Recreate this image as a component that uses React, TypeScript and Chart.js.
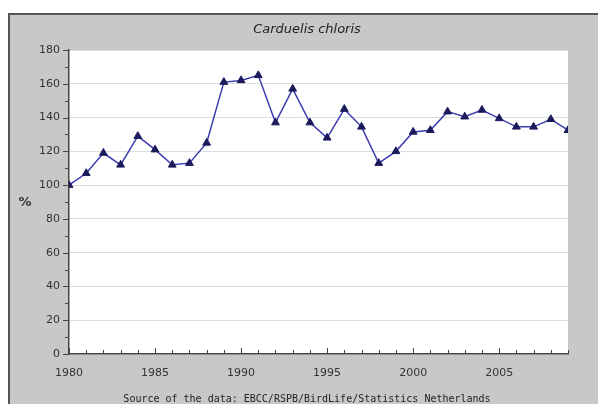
import React, { useEffect, useRef } from "react";
import { Chart, registerables } from "chart.js";

Chart.register(...registerables);

const years: number[] = [
  1980, 1981, 1982, 1983, 1984, 1985, 1986, 1987, 1988, 1989,
  1990, 1991, 1992, 1993, 1994, 1995, 1996, 1997, 1998, 1999,
  2000, 2001, 2002, 2003, 2004, 2005, 2006, 2007, 2008, 2009,
];
const index: number[] = [
  100, 107, 119, 112, 129, 121, 112, 113, 125, 161,
  162, 165, 137, 157, 137, 128, 145, 134.5, 113, 120,
  131.5, 132.5, 143.5, 140.5, 144.5, 139.5, 134.5, 134.5, 139, 132.5,
];
const titleText = "Carduelis chloris";
const yLabel = "%";
const sourceText = "Source of the data: EBCC/RSPB/BirdLife/Statistics Netherlands";
const xMin = 1980;
const xMax = 2009;
const yMin = 0;
const yMax = 180;

const PANEL = "#c8c8c8";

const framePlugin = {
  id: "frame",
  beforeDraw(chart: any) {
    const { ctx, width, height, chartArea } = chart;
    ctx.save();
    ctx.fillStyle = "#ffffff";
    ctx.fillRect(0, 0, width, height);
    ctx.fillStyle = PANEL;
    ctx.fillRect(8, 13, width - 8, height - 13);
    ctx.fillStyle = "#555555";
    ctx.fillRect(8, 13, width - 8, 2);
    ctx.fillRect(8, 13, 2, height - 13);
    ctx.fillStyle = "#ffffff";
    ctx.fillRect(chartArea.left, chartArea.top, chartArea.right - chartArea.left, chartArea.bottom - chartArea.top);
    ctx.restore();
  },
  afterDraw(chart: any) {
    const { ctx, chartArea, scales } = chart;
    const xs = scales.x;
    const ys = scales.y;
    ctx.save();
    ctx.strokeStyle = "#444444";
    ctx.lineWidth = 1;
    for (let yr = xMin; yr <= xMax; yr++) {
      const px = Math.round(xs.getPixelForValue(yr)) + 0.5;
      const len = yr % 5 === 0 ? 6 : 4;
      ctx.beginPath();
      ctx.moveTo(px, chartArea.bottom);
      ctx.lineTo(px, chartArea.bottom - len);
      ctx.stroke();
    }
    for (let v = yMin; v <= yMax; v += 10) {
      const py = Math.round(ys.getPixelForValue(v)) + 0.5;
      const len = v % 20 === 0 ? 6 : 4;
      ctx.beginPath();
      ctx.moveTo(chartArea.left, py);
      ctx.lineTo(chartArea.left - len, py);
      ctx.stroke();
    }
    ctx.fillStyle = "#222222";
    ctx.textAlign = "center";
    ctx.textBaseline = "middle";
    ctx.font = "italic 13px 'DejaVu Sans'";
    ctx.fillText(titleText, 307, 30);
    ctx.font = "bold 13px 'DejaVu Sans'";
    ctx.fillStyle = "#333333";
    ctx.fillText(yLabel, 25, 203);
    ctx.font = "10px 'DejaVu Sans Mono'";
    ctx.fillStyle = "#222222";
    ctx.fillText(sourceText, 307, 399);
    ctx.restore();
  },
};

export default function App() {
  const ref = useRef<HTMLCanvasElement | null>(null);

  useEffect(() => {
    document.body.style.margin = "0";
    const canvas = ref.current;
    if (!canvas) return;
    const chart = new Chart(canvas, {
      type: "line",
      data: {
        datasets: [
          {
            label: titleText,
            data: years.map((y, i) => ({ x: y, y: index[i] })),
            borderColor: "#3c3cb0",
            borderWidth: 1.5,
            pointStyle: "triangle",
            pointRadius: 4.5,
            pointBackgroundColor: "#1a1a5c",
            pointBorderColor: "#1a1a5c",
            pointBorderWidth: 1,
            tension: 0,
            fill: false,
          },
        ],
      },
      options: {
        animation: false,
        responsive: false,
        maintainAspectRatio: false,
        layout: { padding: { left: 8, right: 30, top: 50, bottom: 0 } },
        plugins: {
          legend: { display: false },
          title: { display: false },
          tooltip: { enabled: false },
        },
        scales: {
          x: {
            type: "linear",
            min: xMin,
            max: xMax,
            afterFit: (s: any) => {
              s.height = 50;
            },
            ticks: {
              stepSize: 5,
              autoSkip: false,
              maxRotation: 0,
              includeBounds: false,
              padding: 13,
              color: "#333333",
              font: { family: "'DejaVu Sans'", size: 11 },
              callback: (v: any) => (Number(v) % 5 === 0 ? String(v) : ""),
            },
            grid: { drawOnChartArea: false, drawTicks: false },
            border: { display: true, color: "#444444", width: 1.5 },
          },
          y: {
            type: "linear",
            min: yMin,
            max: yMax,
            afterFit: (s: any) => {
              s.width = 61;
            },
            ticks: {
              stepSize: 20,
              padding: 9,
              color: "#333333",
              font: { family: "'DejaVu Sans'", size: 11 },
            },
            grid: { color: "#dddddd", drawTicks: false },
            border: { display: true, color: "#444444", width: 1.5 },
          },
        },
      },
      plugins: [framePlugin],
    });
    return () => chart.destroy();
  }, []);

  return (
    <div style={{ width: 598, height: 404 }}>
      <canvas ref={ref} width={598} height={404} style={{ display: "block", width: 598, height: 404 }} />
    </div>
  );
}
